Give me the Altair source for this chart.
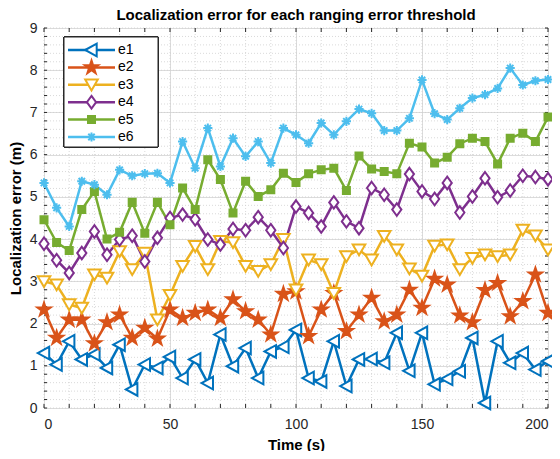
import math
import altair as alt
import pandas as pd

# ---------------- data ----------------
times = list(range(0, 201, 5))
series_names = ["e1", "e2", "e3", "e4", "e5", "e6"]

e1 = [1.30, 1.03, 1.58, 1.15, 1.27, 0.95, 1.50, 0.44, 1.03, 0.95, 1.21, 0.71, 1.15, 0.59, 1.74,
      0.99, 1.42, 0.71, 1.34, 1.45, 1.85, 0.71, 0.63, 1.58, 0.52, 1.15, 1.16, 1.07, 1.78, 0.88,
      1.78, 0.56, 0.69, 0.87, 1.66, 0.12, 1.58, 1.07, 1.30, 0.91, 1.11]
e2 = [2.33, 1.66, 2.09, 2.09, 1.53, 2.03, 2.21, 1.66, 1.90, 1.64, 2.33, 2.13, 2.25, 2.33, 2.13,
      2.57, 2.29, 2.09, 1.74, 2.70, 2.76, 1.70, 2.33, 2.72, 1.82, 2.21, 2.61, 2.05, 2.21, 2.80,
      2.37, 3.06, 2.92, 2.19, 2.03, 2.79, 2.96, 2.17, 2.53, 3.16, 2.25]
e3 = [3.00, 2.92, 2.45, 2.37, 3.16, 3.08, 3.71, 3.28, 3.67, 2.09, 2.67, 3.36, 3.83, 3.28, 3.95,
      3.92, 3.36, 3.24, 3.40, 4.00, 2.80, 3.51, 3.40, 2.72, 3.59, 3.75, 3.51, 4.07, 3.75, 3.30,
      3.13, 3.84, 3.87, 3.28, 3.55, 3.63, 3.59, 3.63, 4.22, 4.08, 3.75]
e4 = [3.89, 3.50, 3.20, 3.67, 4.18, 3.63, 3.99, 4.08, 3.47, 4.03, 4.50, 4.58, 4.47, 3.99, 3.87,
      4.24, 4.21, 4.52, 4.21, 3.79, 4.77, 4.62, 4.30, 4.87, 4.42, 4.26, 5.21, 5.05, 4.70, 5.54,
      5.13, 4.95, 5.33, 4.63, 5.01, 5.44, 4.99, 5.15, 5.50, 5.47, 5.42]
e5 = [4.46, 3.92, 3.73, 4.70, 5.13, 4.00, 4.16, 4.87, 4.14, 4.87, 4.34, 5.21, 4.70, 5.88, 5.41,
      4.62, 5.37, 5.01, 5.17, 5.56, 5.34, 5.55, 5.64, 5.68, 5.15, 5.97, 5.66, 5.60, 5.55, 6.27,
      6.18, 5.80, 5.94, 6.26, 6.39, 6.31, 5.78, 6.39, 6.51, 6.31, 6.89]
e6 = [5.33, 4.74, 4.30, 5.37, 5.29, 5.05, 5.64, 5.50, 5.55, 5.56, 5.33, 6.31, 5.68, 6.63, 5.72,
      6.39, 5.96, 6.31, 5.80, 6.63, 6.47, 6.27, 6.75, 6.47, 6.79, 7.08, 6.98, 6.57, 6.57, 6.86,
      7.77, 6.97, 6.83, 7.10, 7.34, 7.42, 7.57, 8.05, 7.65, 7.75, 7.78]

x_ticks = [0, 50, 100, 150, 200]
y_ticks = [0, 1, 2, 3, 4, 5, 6, 7, 8, 9]
x_minor = list(range(0, 201, 10))
y_minor = [round(i * 0.2, 1) for i in range(46)]

title_text = "Localization error for each ranging error threshold"
x_title = "Time (s)"
y_title = "Localization error (m)"

# ---------------- styles ----------------
colors = ["#0072BD", "#D95319", "#EDB120", "#7E2F8E", "#77AC30", "#4DBEEE"]
fills = ["white", "#D95319", "white", "white", "#77AC30", "#4DBEEE"]

R = 12.0            # symbol half-size in px for size = (2R)^2
SYM_SIZE = int((2 * R) ** 2)


def poly(pts):
    return "M" + "L".join("%.3f,%.3f" % (x / R, y / R) for x, y in pts) + "Z"


def segs(pairs):
    return "".join("M%.3f,%.3fL%.3f,%.3f" % (a / R, b / R, c / R, d / R) for a, b, c, d in pairs)


star_pts = []
for k in range(10):
    ang = math.radians(-90 + 36 * k)
    rad = 7.0 if k % 2 == 0 else 2.7
    star_pts.append((rad * math.cos(ang), rad * math.sin(ang)))

markers = [
    poly([(-6.3, 0), (5.2, -6.3), (5.2, 6.3)]),
    poly(star_pts),
    poly([(-6.3, -5.2), (6.3, -5.2), (0, 5.6)]),
    poly([(0, -6.3), (4.6, 0), (0, 6.3), (-4.6, 0)]),
    poly([(-3.5, -3.5), (3.5, -3.5), (3.5, 3.5), (-3.5, 3.5)]),
    segs([(0, -4.6, 0, 4.6), (-4.6, 0, 4.6, 0), (-3.2, -3.2, 3.2, 3.2), (-3.2, 3.2, 3.2, -3.2)]),
]

FONT = "Liberation Sans"
W, H = 504, 380

rows = []
for name, vals in zip(series_names, [e1, e2, e3, e4, e5, e6]):
    for t, v in zip(times, vals):
        rows.append({"t": t, "v": v, "series": name})
df = pd.DataFrame(rows)
legend_df = pd.DataFrame({"series": series_names, "idx": list(range(len(series_names)))})

xscale = alt.Scale(domain=[0, 200], nice=False, zero=False)
yscale = alt.Scale(domain=[0, 9], nice=False)
stroke_scale = alt.Scale(domain=series_names, range=colors)
shape_scale = alt.Scale(domain=series_names, range=markers)
fill_scale = alt.Scale(domain=series_names, range=fills)

xaxis = alt.Axis(values=x_ticks, grid=True, gridColor="#dcdcdc", ticks=False, domain=False,
                 labelFont=FONT, labelFontSize=14, labelColor="#262626", labelPadding=9,
                 title=x_title, titleFont=FONT, titleFontSize=15, titleFontWeight="bold",
                 titleColor="#000000", titlePadding=6)
yaxis = alt.Axis(values=y_ticks, grid=True, gridColor="#dcdcdc", ticks=False, domain=False,
                 format="d", labelFont=FONT, labelFontSize=14, labelColor="#262626",
                 labelPadding=7, title=y_title, titleFont=FONT, titleFontSize=15,
                 titleFontWeight="bold", titleColor="#000000", titlePadding=6)

base = alt.Chart(df)
xminor_df = pd.DataFrame({"x": x_minor})
yminor_df = pd.DataFrame({"y": y_minor})

minor_x = alt.Chart(xminor_df).mark_rule(color="#cfcfcf", strokeWidth=0.8, strokeDash=[1, 2]).encode(
    x=alt.X("x:Q", scale=xscale, axis=xaxis), y=alt.value(0), y2=alt.value(H))
minor_y = alt.Chart(yminor_df).mark_rule(color="#cfcfcf", strokeWidth=0.8, strokeDash=[1, 2]).encode(
    y=alt.Y("y:Q", scale=yscale, axis=yaxis), x=alt.value(0), x2=alt.value(W))

lines = base.mark_line(strokeWidth=2.5).encode(
    x=alt.X("t:Q", scale=xscale, axis=xaxis),
    y=alt.Y("v:Q", scale=yscale, axis=yaxis),
    stroke=alt.Stroke("series:N", scale=stroke_scale, legend=None),
)
points = base.mark_point(filled=False, strokeWidth=2, size=SYM_SIZE, opacity=1).encode(
    x=alt.X("t:Q", scale=xscale, axis=xaxis),
    y=alt.Y("v:Q", scale=yscale, axis=yaxis),
    stroke=alt.Stroke("series:N", scale=stroke_scale, legend=None),
    shape=alt.Shape("series:N", scale=shape_scale, legend=None),
    fill=alt.Fill("series:N", scale=fill_scale, legend=None),
)

tick_color = "#262626"
tx_b = alt.Chart(xminor_df).mark_rule(color=tick_color, strokeWidth=1).encode(
    x=alt.X("x:Q", scale=xscale), y=alt.value(H), y2=alt.value(H - 4))
tx_t = alt.Chart(xminor_df).mark_rule(color=tick_color, strokeWidth=1).encode(
    x=alt.X("x:Q", scale=xscale), y=alt.value(0), y2=alt.value(4))
ty_l = alt.Chart(yminor_df).mark_rule(color=tick_color, strokeWidth=1).encode(
    y=alt.Y("y:Q", scale=yscale), x=alt.value(0), x2=alt.value(3))
ty_r = alt.Chart(yminor_df).mark_rule(color=tick_color, strokeWidth=1).encode(
    y=alt.Y("y:Q", scale=yscale), x=alt.value(W), x2=alt.value(W - 3))

# ---------------- legend (drawn inside the plot, upper-left) ----------------
LEG_X0, LEG_X1, LEG_Y0, LEG_Y1 = 20, 114, 9, 119
ROW0, ROW_STEP = 22, 17.4

leg_box = alt.Chart(legend_df).mark_rect(fill="white", stroke="#262626", strokeWidth=1).encode(
    x=alt.value(LEG_X0), x2=alt.value(LEG_X1), y=alt.value(LEG_Y0), y2=alt.value(LEG_Y1))
leg_base = alt.Chart(legend_df).transform_calculate(ly="%f + %f * datum.idx" % (ROW0, ROW_STEP))
leg_lines = leg_base.mark_rule(strokeWidth=2.5).encode(
    x=alt.value(24), x2=alt.value(71), y=alt.Y("ly:Q", scale=None),
    stroke=alt.Stroke("series:N", scale=stroke_scale, legend=None))
leg_marks = leg_base.mark_point(filled=False, strokeWidth=2, size=SYM_SIZE, opacity=1).encode(
    x=alt.value(47.5), y=alt.Y("ly:Q", scale=None),
    stroke=alt.Stroke("series:N", scale=stroke_scale, legend=None),
    shape=alt.Shape("series:N", scale=shape_scale, legend=None),
    fill=alt.Fill("series:N", scale=fill_scale, legend=None))
leg_text = leg_base.mark_text(align="left", baseline="middle", font=FONT, fontSize=14,
                              color="black").encode(
    x=alt.value(74), y=alt.Y("ly:Q", scale=None), text="series:N")

chart = alt.layer(minor_x, minor_y, tx_b, tx_t, ty_l, ty_r, lines, points,
                  leg_box, leg_lines, leg_marks, leg_text).properties(
    width=W, height=H,
    title=alt.TitleParams(title_text, font=FONT, fontSize=15, fontWeight="bold",
                          color="#000000", anchor="middle", frame="group", offset=7, dy=9),
    autosize=alt.AutoSizeParams(type="none"),
    padding={"left": 36, "top": 20, "right": 4, "bottom": 43},
).configure_view(stroke="#262626", strokeWidth=1).configure(background="white")

chart.save("out.html", embed_options={"renderer": "svg", "actions": False})
